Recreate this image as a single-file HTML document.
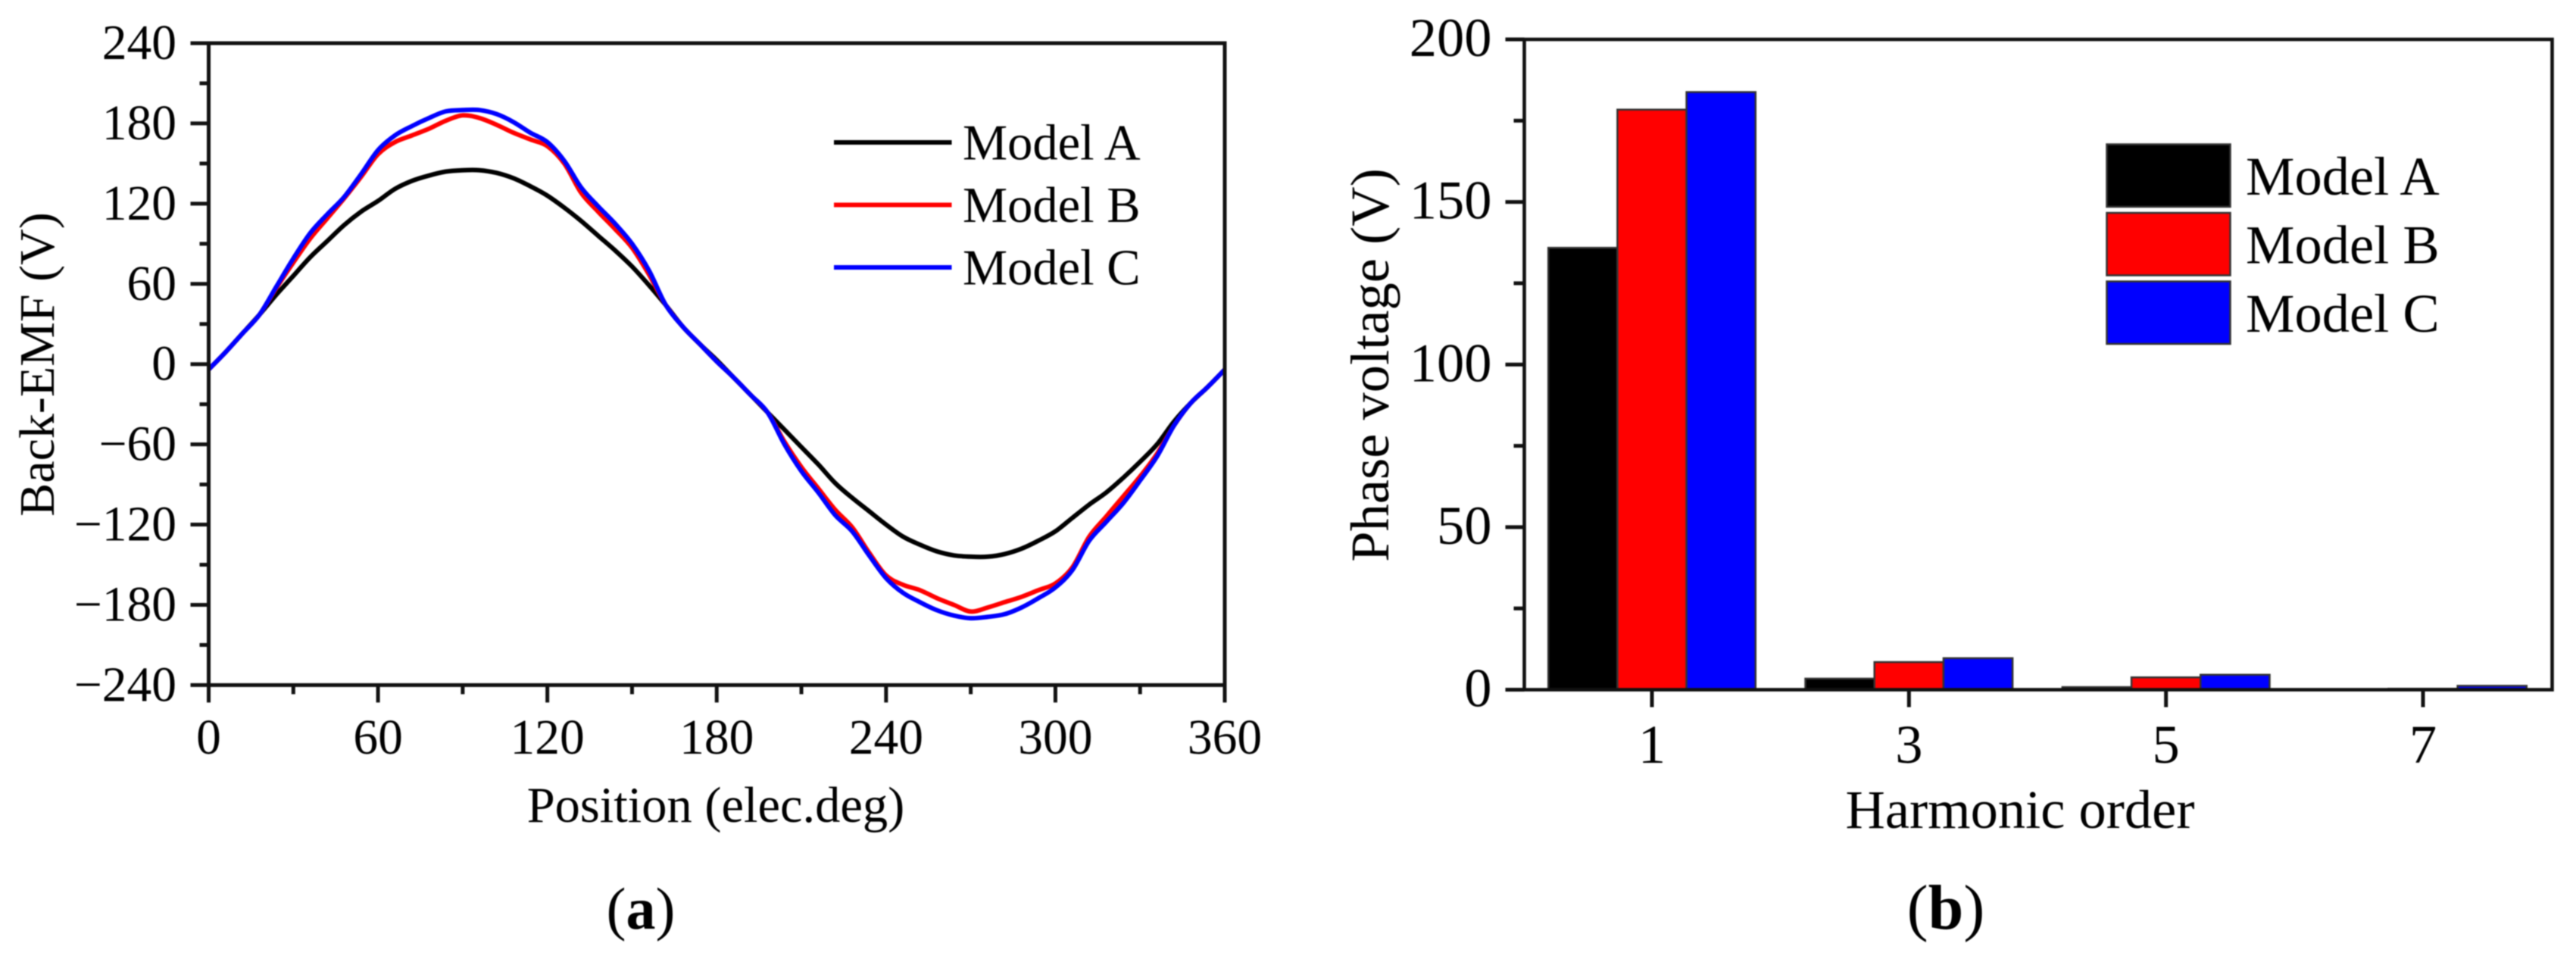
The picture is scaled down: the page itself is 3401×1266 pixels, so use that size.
<!DOCTYPE html>
<html lang="en">
<head>
<meta charset="utf-8">
<title>Back-EMF and phase voltage harmonics</title>
<style>
html,body{margin:0;padding:0;background:#fff;width:3401px;height:1266px;overflow:hidden}
svg{display:block;filter:blur(0.7px)}
text{font-family:"Liberation Serif","Times New Roman",serif;fill:#000}
</style>
</head>
<body>
<svg id="figure" xmlns="http://www.w3.org/2000/svg" width="3401" height="1266" viewBox="0 0 3401 1266">
  <rect width="3401" height="1266" fill="#fff"/>
  <g id="panelA"></g>
  <g id="panelB"></g>

  <text font-size="66" text-anchor="middle" transform="translate(71 481) rotate(-90)">Back-EMF (V)</text>
  <text font-size="66.5" text-anchor="middle" x="945" y="1085">Position (elec.deg)</text>
  <text font-size="78" text-anchor="middle" x="846" y="1226">(<tspan font-weight="bold">a</tspan>)</text>

  <text font-size="72.5" text-anchor="middle" transform="translate(1833 482) rotate(-90)">Phase voltage (V)</text>
  <text font-size="72.5" text-anchor="middle" x="2667" y="1093">Harmonic order</text>
  <text font-size="84" text-anchor="middle" x="2569" y="1226">(<tspan font-weight="bold">b</tspan>)</text>
</svg>
<script>
// ---------- Panel (a) data ----------
const positionDeg = [0,6,12,18,24,30,36,42,48,54,60,66,72,78,84,90,96,102,108,114,120,126,132,138,144,150,156,162,168,174,180,186,192,198,204,210,216,222,228,234,240,246,252,258,264,270,276,282,288,294,300,306,312,318,324,330,336,342,348,354,360];
const modelAEmf = [-4,9,23,37,52,66,80,92,104,114,122,131,137,141,144,145,145,143,139,133,126,117,107,96,85,73,59,44,28,15,3,-10,-23,-36,-49,-62,-75,-89,-100,-110,-120,-129,-135,-140,-143,-144,-144,-142,-138,-132,-125,-115,-105,-96,-85,-73,-60,-43,-29,-17,-4];
const modelBEmf = [-4,9,23,37,57,76,94,109,124,140,157,166,171,176,182,186,184,179,173,168,163,150,128,114,101,87,67,44,28,15,2,-10,-23,-36,-58,-77,-93,-109,-122,-141,-158,-165,-169,-175,-180,-185,-182,-178,-174,-169,-164,-152,-129,-114,-99,-84,-67,-46,-29,-17,-4];
const modelCEmf = [-4,9,23,37,58,79,98,112,125,142,160,171,178,184,189,190,190,187,181,173,166,152,132,118,105,90,70,44,28,15,2,-10,-23,-36,-60,-80,-96,-113,-125,-143,-160,-171,-178,-184,-188,-190,-189,-187,-182,-175,-167,-154,-132,-118,-104,-87,-69,-46,-29,-17,-4];
const emfYMajorTicks = [240,180,120,60,0,-60,-120,-180,-240];
const emfYMinorTicks = [210,150,90,30,-30,-90,-150,-210];
const posXMajorTicks = [0,60,120,180,240,300,360];
const posXMinorTicks = [30,90,150,210,270,330];
const lineSeriesNames = ['Model A','Model B','Model C'];
const seriesColors = ['#000000','#ff0000','#0000ff'];

// ---------- Panel (b) data ----------
const harmonicOrders = [1,3,5,7];
const modelAVoltage = [135.9,3.4,0.8,0.1];
const modelBVoltage = [178.4,8.5,3.8,0.3];
const modelCVoltage = [183.8,9.7,4.6,1.2];
const voltYMajorTicks = [200,150,100,50,0];
const voltYMinorTicks = [175,125,75,25];

const NS = 'http://www.w3.org/2000/svg';
function mk(tag, parent, attrs, txt){
  const el = document.createElementNS(NS, tag);
  for (const k in attrs) el.setAttribute(k, attrs[k]);
  if (txt !== undefined) el.textContent = txt;
  parent.appendChild(el);
  return el;
}
const fmt = v => v < 0 ? '\u2212' + Math.abs(v) : String(v);

// smooth path through the scaled points (Catmull-Rom to cubic Bezier)
function smoothPath(pts){
  let d = 'M' + pts[0][0].toFixed(1) + ' ' + pts[0][1].toFixed(1);
  for (let i = 0; i < pts.length - 1; i++){
    const p0 = pts[Math.max(i - 1, 0)], p1 = pts[i], p2 = pts[i + 1], p3 = pts[Math.min(i + 2, pts.length - 1)];
    const c1x = p1[0] + (p2[0] - p0[0]) / 6, c1y = p1[1] + (p2[1] - p0[1]) / 6;
    const c2x = p2[0] - (p3[0] - p1[0]) / 6, c2y = p2[1] - (p3[1] - p1[1]) / 6;
    d += 'C' + c1x.toFixed(1) + ' ' + c1y.toFixed(1) + ' ' + c2x.toFixed(1) + ' ' + c2y.toFixed(1) + ' ' + p2[0].toFixed(1) + ' ' + p2[1].toFixed(1);
  }
  return d;
}

// ---------- Panel (a) ----------
(function(){
  const g = document.getElementById('panelA');
  const L = 275.5, R = 1617, T = 57, B = 904.4;
  const xScale = v => L + (v - 0) / 360 * (R - L);
  const yScale = v => T + (240 - v) / 480 * (B - T);
  const emfSeries = [modelAEmf, modelBEmf, modelCEmf];

  const seriesSlugs = ['line-model-a','line-model-b','line-model-c'];
  emfSeries.forEach((vals, i) => {
    const pts = vals.map((v, j) => [xScale(positionDeg[j]), yScale(v)]);
    const p = mk('path', g, {d: smoothPath(pts), fill: 'none', stroke: seriesColors[i], 'stroke-width': 6, 'stroke-linejoin': 'round'});
    
    
  });

  const frame = mk('rect', g, {x: L, y: T, width: R - L, height: B - T, fill: 'none', stroke: '#111', 'stroke-width': 5});
  
  

  emfYMajorTicks.forEach(v => {
    const t = mk('line', g, {x1: L - 24, x2: L, y1: yScale(v), y2: yScale(v), stroke: '#111', 'stroke-width': 5});
    
    
    const lb = mk('text', g, {x: 233, y: yScale(v) + 21, 'font-size': 65.5, 'text-anchor': 'end'}, fmt(v));
    
    
  });
  emfYMinorTicks.forEach(v => {
    const t = mk('line', g, {x1: L - 12, x2: L, y1: yScale(v), y2: yScale(v), stroke: '#111', 'stroke-width': 5});
    
    
  });
  posXMajorTicks.forEach(v => {
    const t = mk('line', g, {x1: xScale(v), x2: xScale(v), y1: B, y2: B + 23, stroke: '#111', 'stroke-width': 5});
    
    
    const lb = mk('text', g, {x: xScale(v), y: 995, 'font-size': 65.5, 'text-anchor': 'middle'}, fmt(v));
    
    
  });
  posXMinorTicks.forEach(v => {
    const t = mk('line', g, {x1: xScale(v), x2: xScale(v), y1: B, y2: B + 12, stroke: '#111', 'stroke-width': 5});
    
    
  });

  lineSeriesNames.forEach((name, i) => {
    const y = 188 + i * 82.5;
    const s = mk('line', g, {x1: 1101, x2: 1256.5, y1: y, y2: y, stroke: seriesColors[i], 'stroke-width': 6});
    
    
    const tx = mk('text', g, {x: 1271, y: y + 22.5, 'font-size': 66.5}, name);
    
    
  });
})();

// ---------- Panel (b) ----------
(function(){
  const g = document.getElementById('panelB');
  const L = 2012.5, R = 3369.5, T = 52, B = 910.5;
  const xScale = v => 2181 + (v - 1) * 169.67;
  const yScale = v => B - v / 200 * (B - T);
  const barW = 91.2;
  const voltSeries = [modelAVoltage, modelBVoltage, modelCVoltage];

  const barSlugs = ['bar-model-a','bar-model-b','bar-model-c'];
  voltSeries.forEach((vals, i) => {
    vals.forEach((v, j) => {
      const x = xScale(harmonicOrders[j]) + (i - 1.5) * barW;
      const b = mk('rect', g, {x: x, y: yScale(v), width: barW, height: B - yScale(v), fill: seriesColors[i], stroke: '#333', 'stroke-width': 2.5});
      
      
    });
  });

  const frame = mk('rect', g, {x: L, y: T, width: R - L, height: B - T, fill: 'none', stroke: '#111', 'stroke-width': 4.6});
  
  

  voltYMajorTicks.forEach(v => {
    const t = mk('line', g, {x1: L - 25, x2: L, y1: yScale(v), y2: yScale(v), stroke: '#111', 'stroke-width': 5});
    
    
    const lb = mk('text', g, {x: 1969.5, y: yScale(v) + 22, 'font-size': 72.5, 'text-anchor': 'end'}, fmt(v));
    
    
  });
  voltYMinorTicks.forEach(v => {
    const t = mk('line', g, {x1: L - 14, x2: L, y1: yScale(v), y2: yScale(v), stroke: '#111', 'stroke-width': 5});
    
    
  });
  harmonicOrders.forEach(v => {
    const t = mk('line', g, {x1: xScale(v), x2: xScale(v), y1: B, y2: B + 23, stroke: '#111', 'stroke-width': 5});
    
    
    const lb = mk('text', g, {x: xScale(v), y: 1007, 'font-size': 72.5, 'text-anchor': 'middle'}, fmt(v));
    
    
  });

  lineSeriesNames.forEach((name, i) => {
    const y = 190.5 + i * 90.5;
    const s = mk('rect', g, {x: 2781.5, y: y, width: 163, height: 82.5, fill: seriesColors[i], stroke: '#333', 'stroke-width': 2.5});
    
    
    const tx = mk('text', g, {x: 2965, y: y + 66.5, 'font-size': 72.5}, name);
    
    
  });
})();
</script>
</body>
</html>
